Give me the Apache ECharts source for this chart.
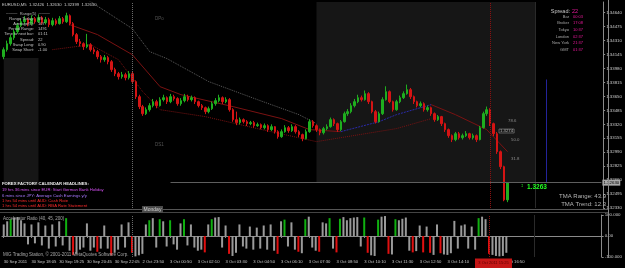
<!DOCTYPE html>
<html><head><meta charset="utf-8">
<script src="https://cdn.jsdelivr.net/npm/echarts@6/dist/echarts.min.js"></script>
<style>html,body{margin:0;padding:0;background:#000;}#c{width:625px;height:268px;}</style>
</head><body><div id="c"></div>
<script>
// ---------- DATA ----------
const symbolName = "EURUSD,M5";
// candles: [open, close, low, high]
const candles = [
[1.34120,1.34203,1.34090,1.34230],[1.34203,1.34274,1.34180,1.34310],[1.34274,1.34345,1.34250,1.34380],[1.34345,1.34416,1.34320,1.34440],[1.34416,1.34487,1.34390,1.34520],
[1.34487,1.34534,1.34470,1.34570],[1.34534,1.34558,1.34500,1.34600],[1.34558,1.34511,1.34480,1.34580],[1.34511,1.34570,1.34490,1.34610],[1.34570,1.34534,1.34510,1.34590],
[1.34534,1.34582,1.34520,1.34620],[1.34582,1.34523,1.34500,1.34600],[1.34523,1.34558,1.34500,1.34590],[1.34558,1.34499,1.34470,1.34580],[1.34499,1.34546,1.34480,1.34580],
[1.34546,1.34511,1.34490,1.34570],[1.34511,1.34570,1.34500,1.34600],[1.34570,1.34534,1.34510,1.34590],[1.34534,1.34605,1.34520,1.34640],[1.34605,1.34511,1.34490,1.34620],
[1.34511,1.34381,1.34360,1.34530],[1.34381,1.34298,1.34270,1.34400],[1.34298,1.34274,1.34240,1.34330],[1.34274,1.34239,1.34200,1.34290],[1.34239,1.34262,1.34220,1.34390],
[1.34262,1.34203,1.34180,1.34280],[1.34203,1.34180,1.34150,1.34230],[1.34180,1.34120,1.34090,1.34200],[1.34120,1.34085,1.34050,1.34140],[1.34085,1.34109,1.34060,1.34140],
[1.34109,1.34061,1.34030,1.34130],[1.34061,1.33967,1.33940,1.34080],[1.33967,1.33919,1.33890,1.33990],[1.33919,1.33884,1.33850,1.33940],[1.33884,1.33907,1.33860,1.33940],
[1.33907,1.33872,1.33840,1.33930],[1.33872,1.33919,1.33850,1.33950],[1.33919,1.33825,1.33800,1.33940],[1.33825,1.33647,1.33620,1.33840],[1.33647,1.33529,1.33500,1.33670],
[1.33529,1.33446,1.33420,1.33550],[1.33446,1.33493,1.33430,1.33520],[1.33493,1.33541,1.33470,1.33570],[1.33541,1.33588,1.33520,1.33620],[1.33588,1.33541,1.33510,1.33610],
[1.33541,1.33612,1.33530,1.33640],[1.33612,1.33635,1.33590,1.33670],[1.33635,1.33588,1.33560,1.33650],[1.33588,1.33647,1.33570,1.33680],[1.33647,1.33624,1.33600,1.33670],
[1.33624,1.33564,1.33540,1.33640],[1.33564,1.33600,1.33540,1.33630],[1.33600,1.33647,1.33580,1.33680],[1.33647,1.33612,1.33590,1.33670],[1.33612,1.33635,1.33590,1.33660],
[1.33635,1.33588,1.33560,1.33650],[1.33588,1.33541,1.33520,1.33600],[1.33541,1.33517,1.33490,1.33560],[1.33517,1.33470,1.33440,1.33530],[1.33470,1.33505,1.33450,1.33530],
[1.33505,1.33564,1.33490,1.33590],[1.33564,1.33600,1.33540,1.33630],[1.33600,1.33635,1.33580,1.33670],[1.33635,1.33588,1.33560,1.33650],[1.33588,1.33612,1.33570,1.33640],
[1.33612,1.33493,1.33470,1.33630],[1.33493,1.33375,1.33350,1.33510],[1.33375,1.33340,1.33310,1.33470],[1.33340,1.33375,1.33320,1.33400],[1.33375,1.33351,1.33330,1.33390],
[1.33351,1.33328,1.33300,1.33370],[1.33328,1.33340,1.33310,1.33360],[1.33340,1.33304,1.33280,1.33360],[1.33304,1.33316,1.33290,1.33340],[1.33316,1.33280,1.33260,1.33330],
[1.33280,1.33304,1.33260,1.33330],[1.33304,1.33257,1.33230,1.33320],[1.33257,1.33292,1.33240,1.33320],[1.33292,1.33233,1.33210,1.33300],[1.33233,1.33174,1.33150,1.33250],
[1.33174,1.33233,1.33160,1.33260],[1.33233,1.33280,1.33220,1.33310],[1.33280,1.33245,1.33220,1.33300],[1.33245,1.33292,1.33230,1.33320],[1.33292,1.33233,1.33210,1.33310],
[1.33233,1.33198,1.33170,1.33250],[1.33198,1.33150,1.33120,1.33210],[1.33150,1.33233,1.33140,1.33260],[1.33233,1.33351,1.33220,1.33380],[1.33351,1.33304,1.33280,1.33370],
[1.33304,1.33257,1.33230,1.33320],[1.33257,1.33221,1.33190,1.33270],[1.33221,1.33269,1.33200,1.33290],[1.33269,1.33292,1.33250,1.33320],[1.33292,1.33375,1.33280,1.33400],
[1.33375,1.33328,1.33300,1.33390],[1.33328,1.33257,1.33230,1.33340],[1.33257,1.33351,1.33240,1.33370],[1.33351,1.33446,1.33340,1.33470],[1.33446,1.33470,1.33420,1.33500],
[1.33470,1.33541,1.33450,1.33570],[1.33541,1.33588,1.33520,1.33620],[1.33588,1.33635,1.33570,1.33670],[1.33635,1.33612,1.33590,1.33660],[1.33612,1.33683,1.33600,1.33720],
[1.33683,1.33588,1.33560,1.33700],[1.33588,1.33470,1.33450,1.33600],[1.33470,1.33351,1.33330,1.33490],[1.33351,1.33446,1.33340,1.33470],[1.33446,1.33612,1.33430,1.33640],
[1.33612,1.33706,1.33600,1.33770],[1.33706,1.33588,1.33570,1.33720],[1.33588,1.33493,1.33470,1.33600],[1.33493,1.33588,1.33480,1.33610],[1.33588,1.33635,1.33570,1.33660],
[1.33635,1.33683,1.33620,1.33710],[1.33683,1.33730,1.33670,1.33790],[1.33730,1.33647,1.33620,1.33750],[1.33647,1.33588,1.33560,1.33660],[1.33588,1.33541,1.33520,1.33600],
[1.33541,1.33564,1.33520,1.33590],[1.33564,1.33493,1.33470,1.33580],[1.33493,1.33517,1.33470,1.33540],[1.33517,1.33446,1.33420,1.33530],[1.33446,1.33375,1.33350,1.33460],
[1.33375,1.33411,1.33360,1.33430],[1.33411,1.33328,1.33300,1.33420],[1.33328,1.33257,1.33230,1.33340],[1.33257,1.33186,1.33160,1.33270],[1.33186,1.33139,1.33110,1.33200],
[1.33139,1.33209,1.33120,1.33230],[1.33209,1.33162,1.33140,1.33230],[1.33162,1.33186,1.33140,1.33210],[1.33186,1.33209,1.33170,1.33240],[1.33209,1.33162,1.33140,1.33220],
[1.33162,1.33186,1.33140,1.33210],[1.33186,1.33139,1.33110,1.33200],[1.33139,1.33280,1.33130,1.33300],[1.33280,1.33446,1.33270,1.33470],[1.33446,1.33493,1.33420,1.33530],
[1.33493,1.33328,1.33300,1.33510],[1.33328,1.33209,1.33180,1.33340],[1.33209,1.32996,1.32970,1.33230],[1.32996,1.32819,1.32790,1.33010],[1.32819,1.32426,1.32410,1.32830],
[1.32426,1.32630,1.32399,1.32630]
];
// TMA band lines: [barIndex, price]
const tmaUpper = [[20,1.34889],[25,1.34771],[37,1.34452],[42,1.34180],[47,1.34097],[59,1.33825],[73,1.33612],[85,1.33434],[90,1.33328]];
const tmaMidDown = [[19,1.34499],[27,1.34381],[37,1.34144],[45,1.33765],[51,1.33671],[66,1.33529],[80,1.33387],[88,1.33257],[97,1.33233]];
const tmaMidUp = [[97,1.33233],[108,1.33351],[113,1.33434],[123,1.33553]];
const tmaMidDown2 = [[123,1.33553],[130,1.33434],[139,1.33257],[145,1.32996]];
const tmaLower = [[14,1.34203],[25,1.34262],[33,1.34085],[40,1.33706],[45,1.33493],[58,1.33411],[73,1.33269],[90,1.33115],[113,1.33269],[123,1.33387]];
// oscillator histogram
const oscValues = [55,70,80,88,90,75,60,-40,55,-35,
 65,-45,50,-60,55,-50,70,-45,85,-70,
 -90,-85,-65,-55,60,-70,-55,-75,-60,50,
 -60,-92,-80,-65,55,-55,65,-80,-97,-92,
 -85,55,75,85,-55,80,70,-50,75,-40,
 -65,60,80,-45,55,-55,-70,-65,-78,55,
 80,88,90,-55,50,-85,-95,-80,55,-50,
 -60,45,-65,40,-60,50,-65,55,-70,-85,
 70,78,-50,65,-65,-75,-82,80,92,-55,
 -70,-75,65,60,85,-60,-78,82,90,75,
 85,88,90,-50,88,-80,-92,-95,78,92,
 95,-85,-88,80,75,82,88,-70,-78,-72,
 50,-78,45,-80,-90,55,-82,-88,-90,-82,
 72,-60,50,55,-60,45,-65,85,92,80,
 -85,-90,-95,-97,-95,-80];
const timeLabels = ["30 Sep 2011","30 Sep 18:05","30 Sep 19:25","30 Sep 20:45","30 Sep 22:05","2 Oct 23:50","3 Oct 00:50","3 Oct 02:10","3 Oct 03:30","3 Oct 04:50","3 Oct 06:10","3 Oct 07:30","3 Oct 08:50","3 Oct 10:10","3 Oct 11:30","3 Oct 12:50","3 Oct 14:10","3 Oct 15:30","3 Oct 16:50"];
const cursorTime = "3 Oct 2011 15:25";
const infoLabels = ["Range Today:","Average(5):","Period Range:","Time to next bar:","Spread:","Swap Long:","Swap Short:"];
const infoValues = ["69","107","1491","01:11","22","0.90","-1.00"];
const spreadValue = "22";
const clockLabels = ["Bar","Broker","Tokyo","London","New York","GMT"];
const clockValues = ["00:03","17:08","10:37","02:37","21:37","01:37"];
const headlines = ["FOREX FACTORY CALENDAR HEADLINES:","19 hrs 36 mins since EUR: Start German Bank Holiday","6 mins since JPY: Average Cash Earnings y/y","1 hrs 54 mins until AUD: Cash Rate","1 hrs 54 mins until AUD: RBA Rate Statement"];
const tmaRange = "43.9", tmaTrend = "12.3";
const fibLabels = ["78.6","50.0","31.8"];
const fibBoxLabel = "1.3274";
const oscTitle = "Accelerator Ratio (40, 45, 200)";
const footer = "MIG Trading Station, \u00a9 2001-2011 MetaQuotes Software Corp.";
const priceMin = 1.3233, priceMax = 1.34767, priceStep = 0.00165;

// ---------- CHART ----------
const FF = '"Liberation Sans", Arial, sans-serif';
const N = 173;
const cats = [];
for (let i = 0; i < N; i++) cats.push(i % 8 === 0 && timeLabels[i / 8] ? timeLabels[i / 8] : '');
const last = candles[candles.length - 1];
const lastClose = last[1];
const upC = '#1fae1f', dnC = '#d41414';

const headlineColors = ['#e8e8e8','#d24ff0','#a878ff','#ff2a2a','#ff2a2a'];
const g = [];
function T(text, x, y, fill, size, extra) {
  g.push({type:'text', x, y, z:100, silent:true,
    style: Object.assign({text, fill, fontSize:size, fontFamily:FF, align:'left', verticalAlign:'middle'}, extra||{})});
}
// separators
g.push({type:'line', z:50, silent:true, shape:{x1:0,y1:209.5,x2:608,y2:209.5}, style:{stroke:'#555',lineWidth:1}});
g.push({type:'line', z:50, silent:true, shape:{x1:0,y1:212.5,x2:608,y2:212.5}, style:{stroke:'#444',lineWidth:1}});
g.push({type:'line', z:50, silent:true, shape:{x1:608.5,y1:0,x2:608.5,y2:258}, style:{stroke:'#8a8a8a',lineWidth:1}});
// header
T(symbolName + '  ' + [last[0], last[3], last[2], last[1]].map(v => v.toFixed(5)).join('  '), 2, 5, '#c8c8c8', 4.2);
// info table
T('\u2500\u2500\u2500\u2500  Range(5)  \u2500\u2500\u2500\u2500', 28, 14, '#b0b0b0', 4, {align:'center'});
infoLabels.forEach((s, k) => { const y = 19 + k * 5.1; T(s, 34, y, '#c0c0c0', 4, {align:'right'}); T(infoValues[k], 38, y, '#c0c0c0', 4); });
// right panel
T('Spread:', 570, 11, '#c8c8c8', 5.5, {align:'right'});
T(spreadValue, 572, 11, '#e8189a', 5.5);
clockLabels.forEach((s, k) => { const y = 16.5 + k * 6.7; T(s, 569, y, '#a8a8a8', 4, {align:'right'}); T(clockValues[k], 573, y, '#e8189a', 4); });
T('TMA Range: ' + tmaRange, 606, 196.5, '#b4b4b4', 6, {align:'right'});
T('TMA Trend: ' + tmaTrend, 606, 204.5, '#b4b4b4', 6, {align:'right'});
T(lastClose.toFixed(4), 527, 187, '#22ff22', 6.5, {fontWeight:'bold'});
T('\u2021', 521, 186, '#22ff22', 4);
// fib labels
T(fibLabels[0], 508, 121, '#8c8c8c', 4.3);
T(fibBoxLabel, 499, 131, '#b0b0b0', 4.3, {borderColor:'#8c8c8c', borderWidth:0.6, padding:[0,1]});
T(fibLabels[1], 511, 140, '#8c8c8c', 4.3);
T(fibLabels[2], 511, 159, '#8c8c8c', 4.3);
T('DPo', 155, 19, '#555', 4.5);
T('DS1', 155, 145, '#555', 4.5);
// headlines
headlines.forEach((s, k) => T(s, 2, [184, 190, 195.8, 201, 206.3][k], headlineColors[k], 4.2, k === 0 ? {fontWeight:'bold'} : {}));
// Monday
g.push({type:'rect', z:90, silent:true, shape:{x:142,y:206,width:21,height:7}, style:{fill:'#4a4a4a'}});
T('Monday', 152.5, 209.6, '#d0d0d0', 5, {align:'center'});
T(oscTitle, 3, 219, '#a8a8a8', 4.5);
T(footer, 3, 255, '#a8a8a8', 4.5);
// cursor time box
g.push({type:'rect', z:99, silent:true, shape:{x:475,y:258.5,width:37,height:9.5}, style:{fill:'#c41616'}});
T(cursorTime, 493.5, 263.3, '#5c0000', 4, {align:'center'});

const priceAxisLabel = {fontSize:4.4, fontFamily:FF, color:'#c8c8c8', margin:3};
const lineBase = {type:'line', xAxisIndex:0, yAxisIndex:0, showSymbol:false, symbol:'none', connectNulls:true, silent:true, z:1};

const option = {
  backgroundColor:'#000',
  animation:false,
  grid:[{left:2, right:17, top:2, height:206}, {left:2, right:17, top:215, height:42}],
  xAxis:[
    {type:'category', gridIndex:0, data:cats, boundaryGap:true, axisLine:{show:false}, axisTick:{show:false}, axisLabel:{show:false}, splitLine:{show:false}},
    {type:'category', gridIndex:1, data:cats, boundaryGap:true, position:'bottom',
      axisLine:{show:true, lineStyle:{color:'#8a8a8a', width:1}},
      axisTick:{show:true, alignWithLabel:true, length:2, interval:(i, v) => v !== '', lineStyle:{color:'#8a8a8a'}},
      axisLabel:{show:true, interval:(i, v) => v !== '', align:'left', margin:3, fontSize:4.2, fontFamily:FF, color:'#c8c8c8'},
      splitLine:{show:false}}
  ],
  yAxis:[
    {type:'value', gridIndex:0, position:'right', min:priceMin, max:priceMax, interval:priceStep, scale:true,
      axisLine:{show:true, lineStyle:{color:'#8a8a8a'}}, axisTick:{show:true, length:2, lineStyle:{color:'#8a8a8a'}},
      axisLabel:Object.assign({formatter:v => v.toFixed(5), showMaxLabel:false}, priceAxisLabel), splitLine:{show:false}},
    {type:'value', gridIndex:1, position:'right', min:-100, max:100, interval:100,
      axisLine:{show:true, lineStyle:{color:'#8a8a8a'}}, axisTick:{show:true, length:2, lineStyle:{color:'#8a8a8a'}},
      axisLabel:Object.assign({formatter:v => v === 0 ? '0.00' : v.toFixed(3)}, priceAxisLabel), splitLine:{show:false}}
  ],
  graphic:{elements:g},
  series:[
    Object.assign({}, lineBase, {name:'upper', data:tmaUpper, z:0, lineStyle:{color:'#5c5c5c', width:1, type:'dotted'},
      markArea:{silent:true, itemStyle:{color:'#161616'}, data:[
        [{coord:[0, 1.34105]}, {coord:[10, 1.32602]}],
        [{coord:[90, priceMax]}, {coord:[153, lastClose]}]
      ]}}),
    Object.assign({}, lineBase, {name:'midDown', data:tmaMidDown, lineStyle:{color:'#7a1212', width:1}}),
    Object.assign({}, lineBase, {name:'midUp', data:tmaMidUp, lineStyle:{color:'#2a2aa8', width:1, type:[2,1]}}),
    Object.assign({}, lineBase, {name:'midDown2', data:tmaMidDown2, lineStyle:{color:'#7a1212', width:1}}),
    Object.assign({}, lineBase, {name:'lower', data:tmaLower, lineStyle:{color:'#7a1212', width:1, type:'dotted'}}),
    {type:'candlestick', name:'price', xAxisIndex:0, yAxisIndex:0, data:candles, barWidth:2, z:3, silent:true,
      itemStyle:{color:upC, color0:dnC, borderColor:upC, borderColor0:dnC, borderWidth:1},
      markLine:{silent:true, symbol:['none','none'], animation:false, data:[
        {xAxis:37, label:{show:false}, lineStyle:{color:'#6a6a6a', type:'dotted', width:1}},
        {xAxis:140, label:{show:false}, lineStyle:{color:'#8a1010', type:'dotted', width:1}},
        {xAxis:153, label:{show:false}, lineStyle:{color:'#2a2a2a', type:'solid', width:1}},
        [{coord:[156, 1.3385], label:{show:false}}, {coord:[156, lastClose]}].map(p => Object.assign(p, {lineStyle:{color:'#23239a', width:1, type:'solid'}})),
        [{coord:[48, lastClose], lineStyle:{color:'#5e5e5e', width:1, type:'solid'},
          label:{show:true, position:'end', distance:1, formatter:() => lastClose.toFixed(5), fontSize:4.4, fontFamily:FF, color:'#000', backgroundColor:'#a8a8a8', padding:[1,1]}},
         {coord:[172, lastClose]}]
      ]}},
    {type:'bar', name:'osc', xAxisIndex:1, yAxisIndex:1, data:oscValues, barWidth:2, silent:true,
      itemStyle:{color:p => { const v = oscValues[p.dataIndex], pv = p.dataIndex > 0 ? oscValues[p.dataIndex - 1] : 0;
        if (v >= 75 && pv < 75) return '#10b010'; if (v <= -75 && pv > -75) return '#e01010'; return '#9a9a9a'; }},
      markLine:{silent:true, symbol:['none','none'], animation:false, label:{show:false}, data:[
        {xAxis:37, lineStyle:{color:'#6a6a6a', type:'dotted', width:1}},
        {xAxis:140, lineStyle:{color:'#8a1010', type:'dotted', width:1}},
        {xAxis:153, lineStyle:{color:'#2a2a2a', type:'solid', width:1}}
      ]}}
  ]
};
const chart = echarts.init(document.getElementById('c'));
chart.setOption(option);
</script></body></html>
